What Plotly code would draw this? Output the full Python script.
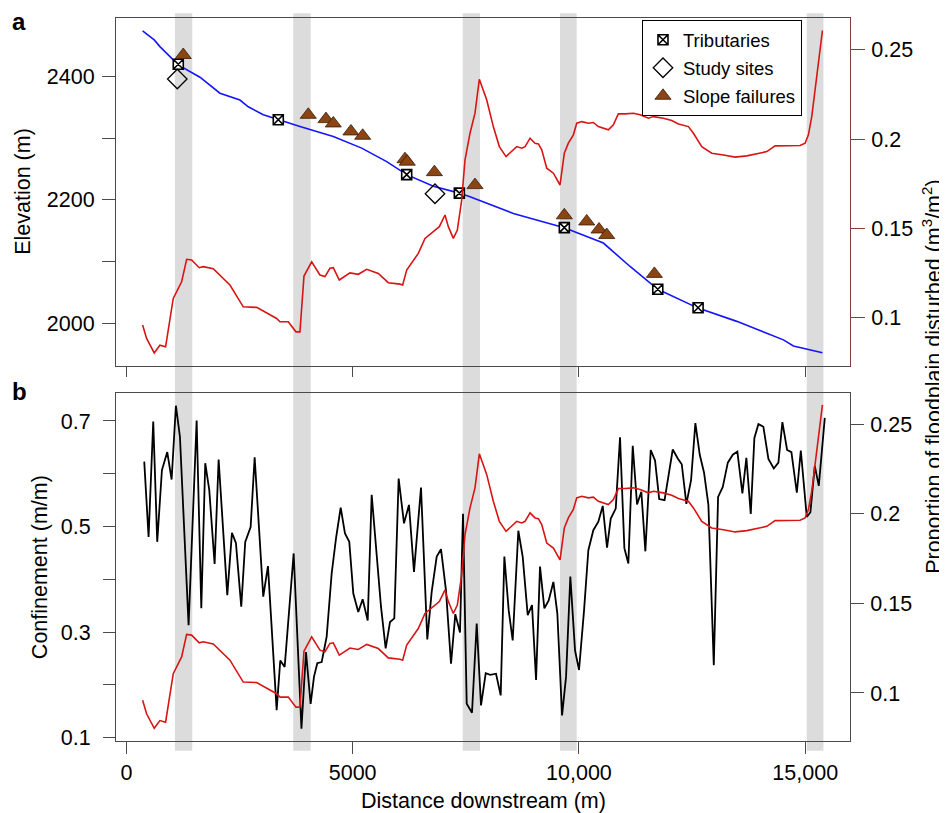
import plotly.graph_objects as go

# ---------------- data ----------------
elev_dist = [358, 615, 740, 1146, 1625, 2067, 2509, 2693, 3025, 3356, 3835, 4572, 5199, 5752,
             6194, 6783, 7357, 7593, 7814, 8550, 9677, 10540, 11130, 11572, 11742, 12633, 13488,
             14519, 14740, 15381]
elev_m = [2474, 2459.5, 2448.6, 2419, 2399, 2373, 2362, 2351, 2338, 2330, 2319, 2303, 2284, 2262,
          2241, 2222, 2211, 2205, 2199, 2178, 2155, 2130, 2092, 2065, 2055, 2024.5, 2003,
          1973, 1963, 1952]

dist_dist = [358, 446, 615, 740, 866, 1035, 1220, 1331, 1441, 1609, 1698, 1919, 2288, 2582, 2878,
             3320, 3393, 3577, 3747, 3835, 3924, 4094, 4277, 4388, 4498, 4572, 4704, 4940, 5124,
             5310, 5566, 5787, 6045, 6105, 6194, 6450, 6598, 6783, 6915, 7040, 7114, 7224, 7313,
             7409, 7482, 7593, 7703, 7799, 7961, 8108, 8241, 8389, 8625, 8736, 8809, 8920, 9030,
             9104, 9178, 9289, 9436, 9582, 9677, 9766, 9877, 9951, 10062, 10208, 10318, 10429,
             10540, 10650, 10761, 10871, 11019, 11203, 11351, 11535, 11645, 11866, 12051, 12198,
             12419, 12530, 12714, 12935, 13193, 13451, 13710, 13931, 14152, 14335, 14594, 14887,
             14998, 15071, 15145, 15256, 15381]
disturbed = [.0959, .0884, .0803, .0846, .0837, .1108, .1201, .1327, .1323, .1280, .1286, .1274,
             .1183, .1061, .1058, .0996, .0977, .0977, .0921, .0921, .1233, .1313, .1239, .1230,
             .1277, .1280, .1211, .1251, .1243, .1271, .1248, .1196, .1188, .1183, .1267, .1360,
             .1444, .1482, .1510, .1575, .1510, .1444, .1491, .1659, .1883, .2033, .2145, .2335,
             .2220, .2070, .1958, .1902, .1958, .1949, .1958, .2005, .1977, .1973, .1940, .1837,
             .1809, .1743, .1921, .1977, .2024, .2089, .2098, .2089, .2093, .2070, .2061, .2052,
             .2080, .2141, .2141, .2145, .2136, .2117, .2126, .2117, .2104, .2085, .2070, .2033,
             .1958, .1921, .1911, .1899, .1906, .1917, .1930, .1962, .1964, .1964, .1977, .2024,
             .2126, .2369, .2608]

conf_dist = [394, 490, 593, 681, 785, 903, 999, 1094, 1183, 1374, 1552, 1655, 1742, 1831, 1949,
             2038, 2229, 2332, 2420, 2538, 2626, 2745, 2834, 3024, 3128, 3320, 3400, 3497, 3696,
             3868, 3968, 4071, 4145, 4218, 4315, 4425, 4536, 4631, 4735, 4830, 4925, 5014, 5124,
             5221, 5332, 5420, 5626, 5729, 5825, 5920, 6016, 6134, 6244, 6355, 6510, 6649, 6746,
             6857, 6952, 7062, 7173, 7268, 7372, 7438, 7520, 7637, 7741, 7836, 7940, 8040, 8168,
             8271, 8352, 8448, 8536, 8661, 8757, 8868, 8963, 9052, 9140, 9236, 9332, 9435, 9523,
             9627, 9715, 9810, 9914, 10002, 10113, 10208, 10318, 10429, 10526, 10621, 10703,
             10813, 10908, 11004, 11092, 11189, 11284, 11379, 11468, 11587, 11682, 11774, 11892,
             12073, 12184, 12272, 12374, 12478, 12573, 12670, 12765, 12861, 12980, 13075, 13179,
             13290, 13400, 13501, 13612, 13700, 13797, 13877, 13966, 14076, 14187, 14306, 14408,
             14496, 14600, 14695, 14815, 14903, 15035, 15115, 15212, 15300, 15433]
confinement = [.623, .480, .699, .471, .607, .641, .589, .729, .670, .313, .701, .345, .620, .569,
               .429, .627, .370, .488, .469, .348, .471, .499, .631, .367, .425, .152, .246, .234,
               .449, .117, .262, .164, .215, .241, .243, .291, .411, .477, .536, .487, .471, .373,
               .338, .362, .322, .560, .348, .269, .319, .326, .591, .506, .541, .414, .574, .286,
               .376, .443, .457, .379, .240, .334, .299, .524, .164, .147, .316, .161, .222, .219,
               .221, .180, .443, .341, .284, .492, .443, .332, .351, .209, .424, .345, .360, .395,
               .335, .142, .215, .405, .265, .228, .341, .455, .493, .509, .539, .460, .515, .534,
               .669, .459, .430, .653, .542, .566, .453, .645, .625, .552, .550, .646, .629, .618,
               .543, .588, .696, .636, .602, .541, .237, .556, .575, .621, .636, .642, .563, .630,
               .524, .668, .694, .689, .628, .610, .621, .698, .645, .641, .564, .644, .518, .527,
               .615, .577, .706]

trib_dist = [1146, 3356, 6194, 7357, 9677, 11742, 12633]
trib_elev = [2420, 2330, 2241, 2211, 2155, 2055, 2025]
site_dist = [1124, 6819]
site_elev = [2396, 2210]
slope_dist = [1256, 4019, 4410, 4572, 4962, 5221, 6156, 6207, 6806, 7703, 9677, 10172, 10444,
              10614, 11667]
slope_elev = [2435, 2338, 2331, 2324, 2311, 2304, 2266, 2262, 2245, 2224, 2175, 2165, 2152,
              2143, 2080]

band_start = [1072, 3687, 7431, 9581, 15035]
band_end = [1455, 4072, 7814, 9950, 15403]

x_ticks = [0, 5000, 10000, 15000]
x_tick_text = ["0", "5000", "10,000", "15,000"]
elev_ticks = [2000, 2200, 2400]
elev_minor = [2100, 2300]
conf_ticks = [0.1, 0.3, 0.5, 0.7]
conf_minor = [0.2, 0.4, 0.6]
prop_ticks = [0.1, 0.15, 0.2, 0.25]
prop_tick_text = ["0.1", "0.15", "0.2", "0.25"]

# ---------------- figure ----------------
FONT = "Liberation Sans, Arial, Helvetica, sans-serif"
FS = 21.5
BOX = "#4a4a4a"
RED = "#d81414"
DARKRED = "#8B3A3A"

fig = go.Figure()

fig.add_trace(go.Scatter(x=elev_dist, y=elev_m, mode="lines", line=dict(color="#1515ff", width=1.6),
                         xaxis="x", yaxis="y", showlegend=False, hoverinfo="skip"))
fig.add_trace(go.Scatter(x=dist_dist, y=disturbed, mode="lines", line=dict(color=RED, width=1.6),
                         xaxis="x", yaxis="y2", showlegend=False, hoverinfo="skip"))
fig.add_trace(go.Scatter(x=trib_dist, y=trib_elev, mode="markers", name="Tributaries",
                         legendgroup="g1",
                         marker=dict(symbol="square-x", size=10, color="white",
                                     line=dict(color="black", width=1.6)),
                         xaxis="x", yaxis="y"))
fig.add_trace(go.Scatter(x=site_dist, y=site_elev, mode="markers", name="Study sites",
                         legendgroup="g2",
                         marker=dict(symbol="diamond-open", size=15, color="black",
                                     line=dict(color="black", width=1.3)),
                         xaxis="x", yaxis="y"))
fig.add_trace(go.Scatter(x=slope_dist, y=slope_elev, mode="markers", name="Slope failures",
                         legendgroup="g3",
                         marker=dict(symbol="triangle-up", size=14, color="#8B4513",
                                     line=dict(color="#3a1a08", width=0.8)),
                         xaxis="x", yaxis="y"))

fig.add_trace(go.Scatter(x=conf_dist, y=confinement, mode="lines", line=dict(color="black", width=1.8),
                         xaxis="x2", yaxis="y3", showlegend=False, hoverinfo="skip"))
fig.add_trace(go.Scatter(x=dist_dist, y=disturbed, mode="lines", line=dict(color=RED, width=1.6),
                         xaxis="x2", yaxis="y4", showlegend=False, hoverinfo="skip"))

shapes = []
for s, e in zip(band_start, band_end):
    shapes.append(dict(type="rect", xref="x", yref="paper", x0=s, x1=e, y0=-0.0134, y1=1.0065,
                       fillcolor="#dcdcdc", line=dict(width=0), layer="below"))

XR = [-230, 15990]
tickfont = dict(family=FONT, size=FS, color="black")
common_axis = dict(showline=True, linecolor=BOX, linewidth=1, showgrid=False, zeroline=False,
                   ticks="outside", tickcolor=BOX, tickwidth=1, tickfont=tickfont)

# The page body adds an 8 px offset; the figure is sized/margined to compensate.
fig.update_layout(
    width=939, height=805,
    margin=dict(l=108, r=97, t=10, b=72),
    paper_bgcolor="white", plot_bgcolor="rgba(0,0,0,0)",
    font=dict(family=FONT, size=FS, color="black"),
    shapes=shapes,
    xaxis=dict(domain=[0, 1], anchor="y", range=XR, tickvals=x_ticks, showticklabels=False,
               ticklen=10, mirror=True, **common_axis),
    yaxis=dict(domain=[0.519, 1], anchor="x", range=[1931, 2495], tickvals=elev_ticks,
               ticklen=13, mirror=True, ticklabelstandoff=3,
               minor=dict(tickvals=elev_minor, ticks="outside", ticklen=13, tickcolor=BOX,
                          tickwidth=1, showgrid=False),
               **common_axis),
    yaxis2=dict(overlaying="y", anchor="x", side="right", range=[0.0731, 0.2678],
                tickvals=prop_ticks, ticktext=prop_tick_text, ticklen=14, showline=True,
                linecolor=DARKRED, linewidth=1, showgrid=False, zeroline=False, ticks="outside",
                tickcolor=DARKRED, tickwidth=1, tickfont=tickfont, ticklabelstandoff=2),
    xaxis2=dict(domain=[0, 1], anchor="y3", range=XR, tickvals=x_ticks, ticktext=x_tick_text,
                ticklen=12, mirror=True, **common_axis),
    yaxis3=dict(domain=[0, 0.481], anchor="x2", range=[0.0935, 0.7526], tickvals=conf_ticks,
                ticklen=12, mirror=True, ticklabelstandoff=8,
                minor=dict(tickvals=conf_minor, ticks="outside", ticklen=12, tickcolor=BOX,
                           tickwidth=1, showgrid=False),
                **common_axis),
    yaxis4=dict(overlaying="y3", anchor="x2", side="right", range=[0.0732, 0.2673],
                tickvals=prop_ticks, ticktext=prop_tick_text, ticklen=13, ticklabelstandoff=2,
                **common_axis),
    legend=dict(x=0.7166, y=0.997, xanchor="left", yanchor="top", bgcolor="white",
                bordercolor="black", borderwidth=1, tracegroupgap=1,
                font=dict(family=FONT, size=18.5, color="black")),
    showlegend=True,
)

ann = [
    dict(text="Elevation (m)", x=-0.1267, y=0.7596, textangle=-90),
    dict(text="Confinement (m/m)", x=-0.1035, y=0.2405, textangle=-90),
    dict(text="Proportion of floodplain disturbed (m<sup>3</sup>/m<sup>2</sup>)", x=1.1124,
         y=0.503, textangle=-90),
    dict(text="Distance downstream (m)", x=0.5, y=-0.083, textangle=0),
]
for a in ann:
    fig.add_annotation(xref="paper", yref="paper", xanchor="center", yanchor="middle",
                       showarrow=False, font=dict(family=FONT, size=FS, color="black"), **a)
fig.add_annotation(text="<b>a</b>", xref="paper", yref="paper", x=-0.132, y=0.995,
                   xanchor="center", yanchor="middle", showarrow=False,
                   font=dict(family=FONT, size=24, color="black"))
fig.add_annotation(text="<b>b</b>", xref="paper", yref="paper", x=-0.132, y=0.483,
                   xanchor="center", yanchor="middle", showarrow=False,
                   font=dict(family=FONT, size=24, color="black"))

fig.write_html("out.html")
